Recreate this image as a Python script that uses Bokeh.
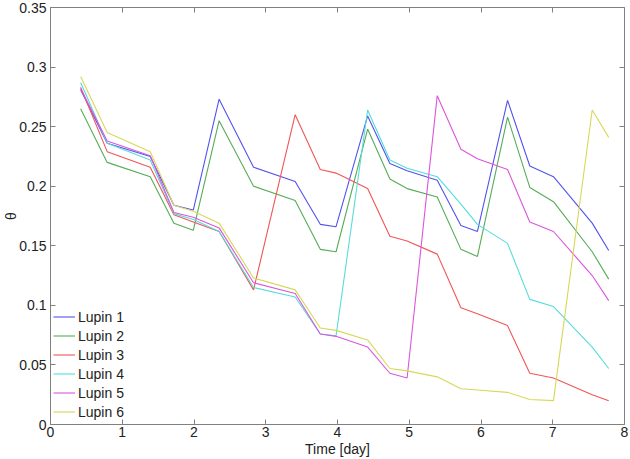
from bokeh.plotting import figure
from bokeh.models import (Range1d, FixedTicker, LinearAxis, Legend, LegendItem,
                          NumeralTickFormatter)
from bokeh.embed import file_html
from bokeh.resources import INLINE

# ---- data ----
time_day = [0.42, 0.79, 1.39, 1.72, 1.99, 2.35, 2.83, 3.41, 3.76, 3.98, 4.42,
            4.73, 4.97, 5.39, 5.72, 5.95, 6.37, 6.68, 7.01, 7.55, 7.78]

lupin1 = [0.281, 0.236, 0.225, 0.184, 0.180, 0.273, 0.216, 0.204, 0.168, 0.166, 0.259,
          0.219, 0.213, 0.205, 0.167, 0.162, 0.272, 0.217, 0.208, 0.169, 0.146]
lupin2 = [0.265, 0.220, 0.208, 0.169, 0.163, 0.255, 0.200, 0.188, 0.147, 0.145, 0.248,
          0.206, 0.198, 0.191, 0.147, 0.141, 0.258, 0.199, 0.187, 0.145, 0.122]
lupin3 = [0.283, 0.229, 0.216, 0.176, 0.170, 0.162, 0.113, 0.260, 0.214, 0.211, 0.198,
          0.158, 0.154, 0.143, 0.098, 0.093, 0.083, 0.043, 0.039, 0.025, 0.020]
lupin4 = [0.287, 0.236, 0.222, 0.177, 0.172, 0.162, 0.115, 0.107, 0.076, 0.0745, 0.264,
          0.222, 0.215, 0.208, 0.185, 0.168, 0.152, 0.105, 0.099, 0.065, 0.047]
lupin5 = [0.282, 0.238, 0.2255, 0.178, 0.174, 0.165, 0.119, 0.110, 0.076, 0.074, 0.065,
          0.043, 0.039, 0.276, 0.231, 0.223, 0.214, 0.170, 0.162, 0.125, 0.104]
lupin6 = [0.292, 0.245, 0.229, 0.184, 0.179, 0.169, 0.123, 0.113, 0.081, 0.079, 0.071,
          0.047, 0.045, 0.040, 0.030, 0.029, 0.027, 0.021, 0.020, 0.264, 0.241]

series_names = ["Lupin 1", "Lupin 2", "Lupin 3", "Lupin 4", "Lupin 5", "Lupin 6"]
series_values = [lupin1, lupin2, lupin3, lupin4, lupin5, lupin6]
series_colors = ["#5252ee", "#55ad55", "#f05656", "#55dcdc", "#dc55dc", "#d8d858"]

x_ticks = [0, 1, 2, 3, 4, 5, 6, 7, 8]
y_ticks = [0, 0.05, 0.1, 0.15, 0.2, 0.25, 0.3, 0.35]
x_label = "Time [day]"
y_label = "θ"

FONT = "Liberation Sans"
AXIS_COLOR = "#808080"
TEXT_COLOR = "#222222"

p = figure(width=630, height=459, output_backend="svg", toolbar_location=None,
           x_range=Range1d(0, 8), y_range=Range1d(0, 0.35),
           x_axis_location=None, y_axis_location=None,
           min_border_left=49, min_border_right=6, min_border_top=7, min_border_bottom=35)
p.grid.visible = False
p.outline_line_color = None
p.background_fill_color = "white"
p.border_fill_color = "white"


def style_axis(ax):
    ax.axis_line_color = AXIS_COLOR
    ax.major_tick_line_color = AXIS_COLOR
    ax.major_tick_in = 5
    ax.major_tick_out = 0
    ax.minor_tick_line_color = None
    ax.major_label_text_font = FONT
    ax.major_label_text_font_size = "14px"
    ax.major_label_text_color = TEXT_COLOR
    ax.axis_label_text_font = FONT
    ax.axis_label_text_font_size = "14px"
    ax.axis_label_text_font_style = "normal"
    ax.axis_label_text_color = TEXT_COLOR


xb = LinearAxis(ticker=FixedTicker(ticks=x_ticks), axis_label=x_label)
style_axis(xb)
xb.major_label_standoff = 2
xb.axis_label_standoff = 1
p.add_layout(xb, "below")

xt = LinearAxis(ticker=FixedTicker(ticks=x_ticks))
style_axis(xt)
xt.major_label_overrides = {t: "" for t in x_ticks}
xt.major_label_standoff = 0
p.add_layout(xt, "above")

yl = LinearAxis(ticker=FixedTicker(ticks=y_ticks), axis_label=y_label,
                formatter=NumeralTickFormatter(format="0.[00]"))
style_axis(yl)
yl.major_label_standoff = 4
yl.axis_label_standoff = -3
p.add_layout(yl, "left")

yr = LinearAxis(ticker=FixedTicker(ticks=y_ticks))
style_axis(yr)
yr.major_label_overrides = {t: "" for t in y_ticks}
yr.major_label_standoff = 0
p.add_layout(yr, "right")

items = []
for name, vals, col in zip(series_names, series_values, series_colors):
    r = p.line(time_day, vals, line_color=col, line_width=1.1)
    items.append(LegendItem(label=name, renderers=[r]))

legend = Legend(items=items, location=(3, 3), margin=0, padding=4, spacing=0,
                label_height=19, glyph_height=19, glyph_width=22, label_standoff=3,
                label_text_font=FONT, label_text_font_size="14px",
                label_text_color=TEXT_COLOR,
                border_line_color=None, background_fill_alpha=0)
p.add_layout(legend, "center")

open("out.html", "w").write(file_html(p, INLINE))
